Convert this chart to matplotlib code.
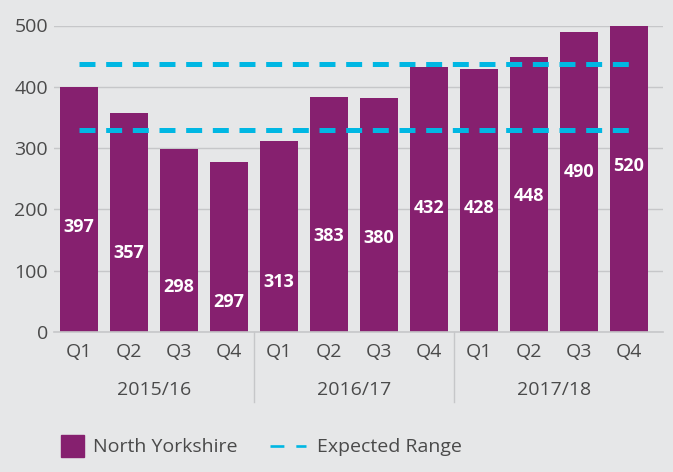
import matplotlib.pyplot as plt
import numpy as np
from matplotlib.patches import Rectangle
from matplotlib.lines import Line2D

plt.rcParams['font.family'] = ['Open Sans', 'DejaVu Sans']
plt.rcParams['lines.scale_dashes'] = False

years = ['2015/16', '2016/17', '2017/18']
quarters = ['Q1', 'Q2', 'Q3', 'Q4']
bar_heights = [399, 357, 298, 277, 311, 383, 381, 432, 429, 448, 489, 520]
bar_labels = ['397', '357', '298', '297', '313', '383', '380', '432', '428', '448', '490', '520']
label_y = [172, 129, 73, 49, 82, 156, 153, 202, 202, 222, 261, 271]
expected_low = 329
expected_high = 437

purple = '#86206f'
cyan = '#00b7e3'
bg = '#e6e7e8'
grid = '#c6c7c9'
txt = '#4a4a4a'

W, H = 673, 472
fig = plt.figure(figsize=(W / 100, H / 100), dpi=100, facecolor=bg)
ax = fig.add_axes([54 / W, 1 - 332 / H, (663 - 54) / W, (332 - 25.5) / H])
ax.set_facecolor(bg)

x = np.arange(len(bar_heights))
ax.bar(x, bar_heights, width=0.76, color=purple, zorder=2)
for xi, lab, ly in zip(x, bar_labels, label_y):
    ax.text(xi, ly, lab, ha='center', va='center', color='white',
            fontsize=13, fontweight='bold', zorder=3)

for yv in (expected_low, expected_high):
    ax.plot([x[0], x[-1]], [yv, yv], color=cyan, lw=3.6,
            dashes=(11.5, 7.7), zorder=4, solid_capstyle='butt', dash_capstyle='butt')

ax.set_xlim(-0.5, 11.68)
ax.set_ylim(0, 500)
ax.set_yticks(range(0, 501, 100))
ax.yaxis.grid(True, color=grid, lw=1, zorder=0)
ax.set_axisbelow(True)
for s in ['top', 'right', 'left']:
    ax.spines[s].set_visible(False)
ax.spines['bottom'].set_color(grid)
ax.spines['bottom'].set_linewidth(1.2)
ax.tick_params(axis='y', length=0, pad=4.3, labelsize=14, labelcolor=txt)
ax.set_xticks([])

tr = ax.get_xaxis_transform()
for i, xi in enumerate(x):
    ax.text(xi, -0.065, quarters[i % 4], transform=tr, ha='center', va='center',
            fontsize=14, color=txt)
for g, yr in enumerate(years):
    ax.text(g * 4 + 1.5, -0.189, yr, transform=tr, ha='center', va='center',
            fontsize=14, color=txt)
for sep in (3.5, 7.5):
    ax.add_line(Line2D([sep, sep], [0, -0.228], transform=tr, color=grid,
                       lw=1, clip_on=False))

# legend
fig.add_artist(Rectangle((61 / W, 1 - 457 / H), 23 / W, 22 / H,
                         transform=fig.transFigure, color=purple))
fig.text(93 / W, 1 - 447 / H, 'North Yorkshire', ha='left', va='center',
         fontsize=14, color=txt)
fig.add_artist(Line2D([270 / W, 306 / W], [1 - 446 / H, 1 - 446 / H],
                      transform=fig.transFigure, color=cyan, lw=1.9,
                      dashes=(10, 8.6)))
fig.text(317 / W, 1 - 447 / H, 'Expected Range', ha='left', va='center',
         fontsize=14, color=txt)

fig.savefig('out.png', dpi=100, facecolor=bg)
